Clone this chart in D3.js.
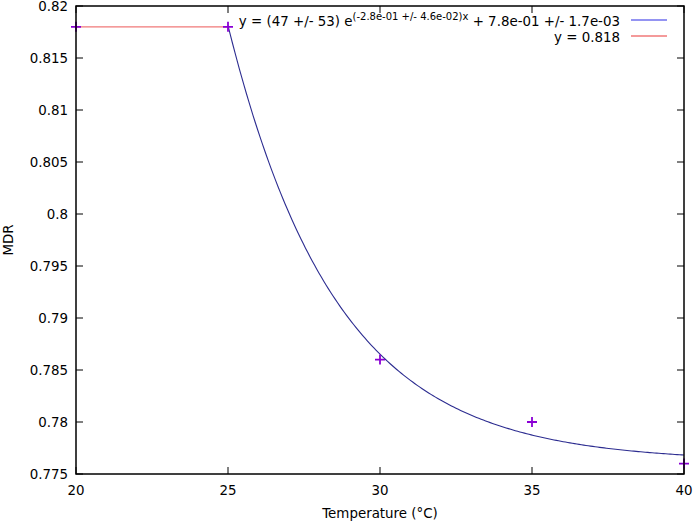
<!DOCTYPE html>
<html>
<head>
<meta charset="utf-8">
<script src="https://cdn.jsdelivr.net/npm/d3@7"></script>
<style>
  body { margin: 0; background: #fff; }
  text { font-family: "DejaVu Sans", sans-serif; font-size: 13.4px; fill: #000; }
</style>
</head>
<body>
<svg id="chart" width="694" height="522"></svg>
<script>
// measured points
const temps = [20, 25, 30, 35, 40];
const mdr = [0.818, 0.818, 0.786, 0.780, 0.776];

// fitted exponential y = a e^(-b x) + c, drawn for x in [25, 40]
const fitA = 46.2, fitB = 0.2802, fitC = 0.7762;
const fitRange = [25, 40];
const plateau = 0.818, plateauRange = [20, 25];

const xTicks = [20, 25, 30, 35, 40];
const yTicks = [0.775, 0.78, 0.785, 0.79, 0.795, 0.8, 0.805, 0.81, 0.815, 0.82];

const legendLabels = ['y = 0.818'];

const svg = d3.select('#chart');
const pLeft = 76, pRight = 684, pTop = 6, pBottom = 474;

const x = d3.scaleLinear().domain([20, 40]).range([pLeft, pRight]);
const y = d3.scaleLinear().domain([0.775, 0.82]).range([pBottom, pTop]);

const tickLen = 7;

// ticks (inward, mirrored)
xTicks.forEach(function (t) {
    svg.append('line').attr('x1', x(t)).attr('x2', x(t)).attr('y1', pBottom).attr('y2', pBottom - tickLen)
        .attr('stroke', '#000').attr('stroke-width', 1);
    svg.append('line').attr('x1', x(t)).attr('x2', x(t)).attr('y1', pTop).attr('y2', pTop + tickLen)
        .attr('stroke', '#000').attr('stroke-width', 1);
    svg.append('text').attr('x', x(t)).attr('y', pBottom + 21).attr('text-anchor', 'middle').text(t);
});
yTicks.forEach(function (t) {
    svg.append('line').attr('x1', pLeft).attr('x2', pLeft + tickLen).attr('y1', y(t)).attr('y2', y(t))
        .attr('stroke', '#000').attr('stroke-width', 1);
    svg.append('line').attr('x1', pRight).attr('x2', pRight - tickLen).attr('y1', y(t)).attr('y2', y(t))
        .attr('stroke', '#000').attr('stroke-width', 1);
    svg.append('text').attr('x', pLeft - 8).attr('y', y(t) + 5).attr('text-anchor', 'end').text(d3.format('')(t));
});

// plateau line
svg.append('line')
    .attr('x1', x(plateauRange[0])).attr('x2', x(plateauRange[1]))
    .attr('y1', y(plateau)).attr('y2', y(plateau))
    .attr('stroke', '#f07878').attr('stroke-width', 1.2);

// fit curve
const fitPts = d3.range(0, 201).map(function (i) {
    const xv = fitRange[0] + (fitRange[1] - fitRange[0]) * i / 200;
    return [xv, fitA * Math.exp(-fitB * xv) + fitC];
});
svg.append('path')
    .datum(fitPts)
    .attr('fill', 'none')
    .attr('stroke', '#2c2c90')
    .attr('stroke-width', 1.1)
    .attr('d', d3.line().x(d => x(d[0])).y(d => y(d[1])));

// data points as '+'
const ps = 5;
temps.forEach(function (t, i) {
    const cx = x(t), cy = y(mdr[i]);
    svg.append('path')
        .attr('d', `M${cx - ps},${cy}H${cx + ps}M${cx},${cy - ps}V${cy + ps}`)
        .attr('stroke', '#8a00d4').attr('stroke-width', 1.8).attr('fill', 'none');
});

// frame
svg.append('rect').attr('x', pLeft).attr('y', pTop).attr('width', pRight - pLeft).attr('height', pBottom - pTop)
    .attr('fill', 'none').attr('stroke', '#000').attr('stroke-width', 1.5);

// legend
const legX = 620, legLine = [631, 667];
const l1 = svg.append('text').attr('x', legX).attr('y', 26).attr('text-anchor', 'end');
l1.append('tspan').text('y = (47 +/- 53) e');
l1.append('tspan').attr('dy', -6).style('font-size', '10px').text('(-2.8e-01 +/- 4.6e-02)x');
l1.append('tspan').attr('dy', 6).text(' + 7.8e-01 +/- 1.7e-03');
svg.append('line').attr('x1', legLine[0]).attr('x2', legLine[1]).attr('y1', 20).attr('y2', 20)
    .attr('stroke', '#7070ee').attr('stroke-width', 1.5);

svg.append('text').attr('x', legX).attr('y', 42).attr('text-anchor', 'end').text(legendLabels[0]);
svg.append('line').attr('x1', legLine[0]).attr('x2', legLine[1]).attr('y1', 36).attr('y2', 36)
    .attr('stroke', '#f07878').attr('stroke-width', 1.5);

// axis titles
svg.append('text').attr('x', (pLeft + pRight) / 2).attr('y', 518).attr('text-anchor', 'middle').text('Temperature (°C)');
svg.append('text').attr('transform', 'translate(13,' + (pTop + pBottom) / 2 + ') rotate(-90)')
    .attr('text-anchor', 'middle').text('MDR');
</script>
</body>
</html>
